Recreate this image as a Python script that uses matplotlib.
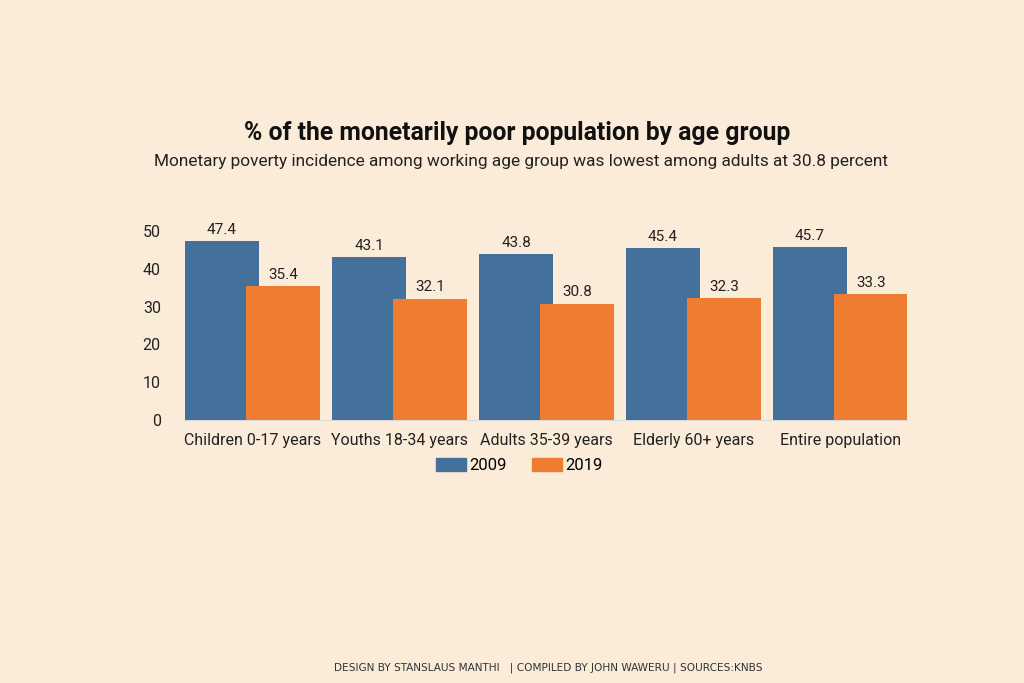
import numpy as np
import matplotlib.pyplot as plt
from matplotlib.patches import Patch

groups = ['Children 0-17 years', 'Youths 18-34 years', 'Adults 35-39 years',
          'Elderly 60+ years', 'Entire population']
v2009 = [47.4, 43.1, 43.8, 45.4, 45.7]
v2019 = [35.4, 32.1, 30.8, 32.3, 33.3]

bg = '#fbecda'
blue = '#44719b'
orange = '#ee7d31'

plt.rcParams['font.family'] = ['Roboto', 'DejaVu Sans']

fig = plt.figure(figsize=(10.24, 6.83), dpi=100, facecolor=bg)
ax = fig.add_axes([0.1787, 0.385, 0.707, 0.277])
ax.set_facecolor(bg)

x = np.arange(len(groups))
w = 0.503
off = 0.2075
b1 = ax.bar(x - off, v2009, w, color=blue, zorder=2)
b2 = ax.bar(x + off, v2019, w, color=orange, zorder=3)
for bars in (b1, b2):
    ax.bar_label(bars, labels=[f'{v}' for v in bars.datavalues], padding=3,
                 fontsize=11, color='#222222', clip_on=False)

ax.set_ylim(0, 50)
ax.set_xlim(-0.473, 4.452)
ax.set_yticks([0, 10, 20, 30, 40, 50])
ax.set_xticks(x)
ax.set_xticklabels(groups, fontsize=11.5, color='#222222')
ax.tick_params(axis='y', labelsize=11.5, labelcolor='#222222', length=0, pad=16)
ax.tick_params(axis='x', length=0, pad=9)
for s in ['top', 'right', 'left']:
    ax.spines[s].set_visible(False)
ax.spines['bottom'].set_color('#d9d9d9')
ax.spines['bottom'].set_zorder(1)

fig.text(0.505, 0.805, '% of the monetarily poor population by age group',
         ha='center', va='center', fontsize=17.8, fontweight='bold', color='#111111')
fig.text(0.509, 0.764, 'Monetary poverty incidence among working age group was lowest among adults at 30.8 percent',
         ha='center', va='center', fontsize=12.4, color='#222222')

handles = [Patch(color=blue, label='2009'), Patch(color=orange, label='2019')]
fig.legend(handles=handles, loc='center', bbox_to_anchor=(0.507, 0.318), ncol=2,
           frameon=False, fontsize=12, handlelength=1.8, handleheight=0.75,
           columnspacing=1.5, handletextpad=0.2)

fig.text(0.535, 0.023, 'DESIGN BY STANSLAUS MANTHI   | COMPILED BY JOHN WAWERU | SOURCES:KNBS',
         ha='center', va='center', fontsize=7.6, color='#333333', family=['DejaVu Sans'])

fig.savefig('out.png', dpi=100, facecolor=bg)
